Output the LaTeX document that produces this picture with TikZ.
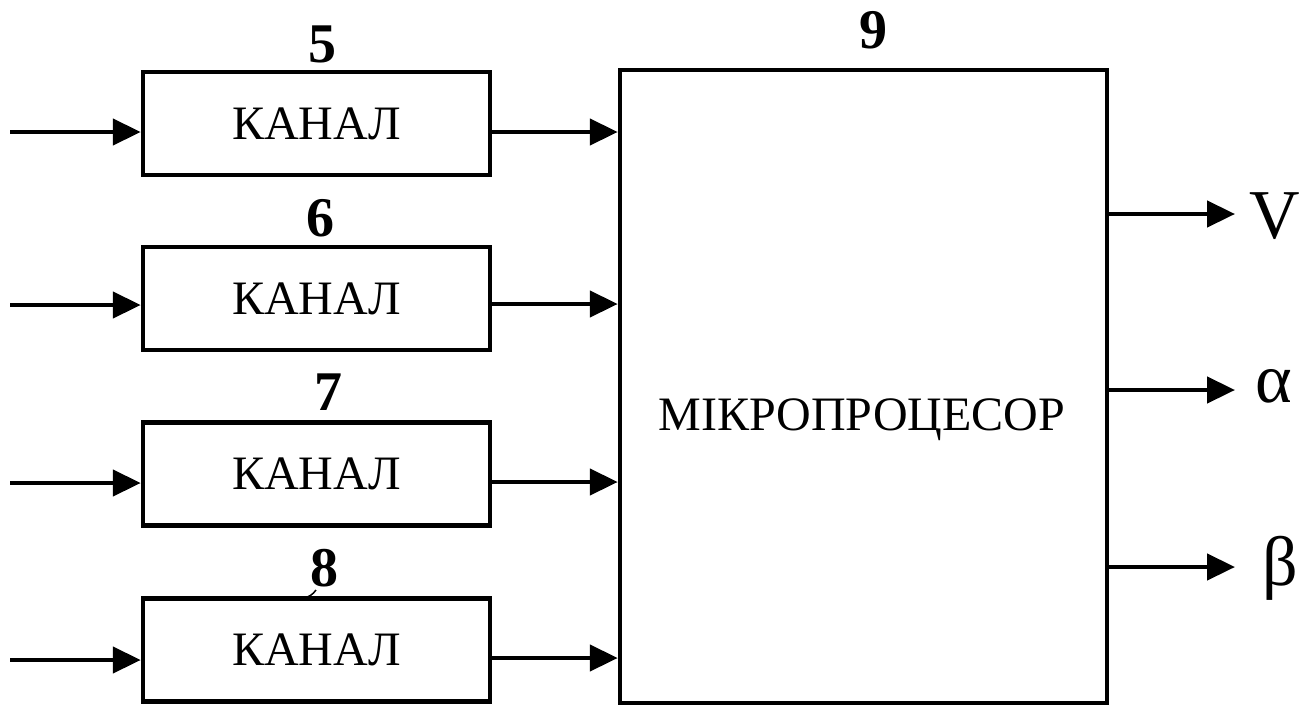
\documentclass[tikz,border=0pt]{standalone}
\usepackage{fontspec}
\setmainfont{Liberation Serif}
\usetikzlibrary{arrows.meta}
\begin{document}
\begin{tikzpicture}[x=1pt,y=-1pt,
  blk/.style={draw, line width=4.5pt, inner sep=0pt, font=\fontsize{48}{48}\selectfont},
  arr/.style={line width=4.5pt, -{Triangle[length=28pt,width=26pt]}},
  lbl/.style={font=\fontsize{48}{48}\selectfont},
  num/.style={font=\fontsize{56}{56}\selectfont\bfseries},
  outl/.style={font=\fontsize{70}{70}\selectfont, anchor=west, inner sep=0pt}]
\useasboundingbox (0,0) rectangle (1311,707);
% channel blocks
\node[blk, minimum width=347pt, minimum height=103pt] (c5) at (316.5,123.5) {КАНАЛ};
\node[blk, minimum width=347pt, minimum height=103pt] (c6) at (316.5,298.5) {КАНАЛ};
\node[blk, minimum width=347pt, minimum height=103pt] (c7) at (316.5,474) {КАНАЛ};
\node[blk, minimum width=347pt, minimum height=103pt] (c8) at (316.5,650) {КАНАЛ};
% numbers
\node[num] (n5) at (322,44) {5};
\node[num] (n6) at (320,218) {6};
\node[num] (n7) at (328,392) {7};
\node[num] (n8) at (324,568) {8};
\draw[line width=1.5pt] (316,590) to[bend left=20] (304,598);
% microprocessor
\node[blk, minimum width=487pt, minimum height=633pt] (mp) at (863.5,386.5) {};
\node[lbl] (mptxt) at (862,420) {МІКРОПРОЦЕСОР};
\node[num] (n9) at (873,30) {9};
% inputs
\coordinate (i5) at (10,132);
\coordinate (i6) at (10,305);
\coordinate (i7) at (10,483);
\coordinate (i8) at (10,660);
\draw[arr] (i5) -- (i5 -| c5.west);
\draw[arr] (i6) -- (i6 -| c6.west);
\draw[arr] (i7) -- (i7 -| c7.west);
\draw[arr] (i8) -- (i8 -| c8.west);
% channel to microprocessor
\coordinate (m5) at (0,132);
\coordinate (m6) at (0,304);
\coordinate (m7) at (0,482);
\coordinate (m8) at (0,658);
\draw[arr] (m5 -| c5.east) -- (m5 -| mp.west);
\draw[arr] (m6 -| c6.east) -- (m6 -| mp.west);
\draw[arr] (m7 -| c7.east) -- (m7 -| mp.west);
\draw[arr] (m8 -| c8.east) -- (m8 -| mp.west);
% outputs
\coordinate (oV) at (1235,214);
\coordinate (oA) at (1235,390);
\coordinate (oB) at (1235,567);
\draw[arr] (oV -| mp.east) -- (oV);
\draw[arr] (oA -| mp.east) -- (oA);
\draw[arr] (oB -| mp.east) -- (oB);
\node[outl] (lV) at (1249,216) {V};
\node[outl] (lA) at (1255,386) {α};
\node[outl] (lB) at (1262,568) {β};
\end{tikzpicture}
\end{document}
